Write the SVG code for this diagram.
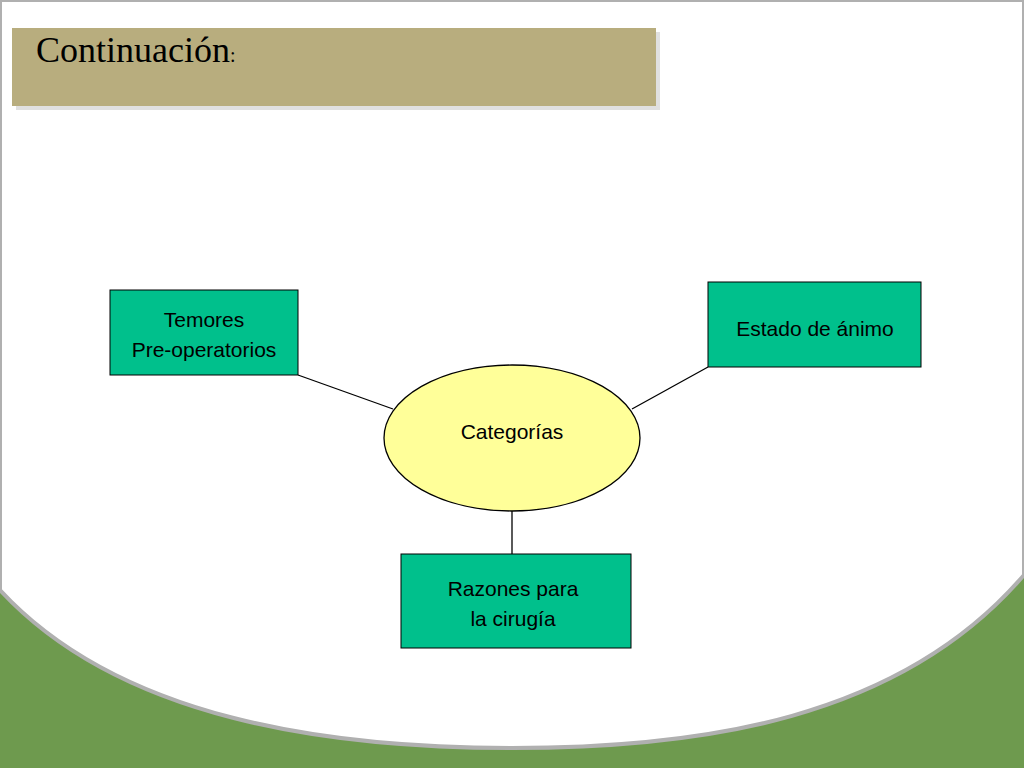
<svg xmlns="http://www.w3.org/2000/svg" width="1024" height="768" viewBox="0 0 1024 768">
<style>
.box{fill:#00c08c;stroke:#000;stroke-width:1}
.t{font-family:"Liberation Sans",Arial,sans-serif;font-size:21px;fill:#000;text-anchor:middle}
.c{stroke:#000;stroke-width:1.3}
</style>
<rect width="1024" height="768" fill="#fff"/>
<path d="M0,590 L1024,570 L1024,768 L0,768 Z" fill="#6e9a4e"/>
<path d="M0,590 C120,720 330,748 512,748 C700,748 900,720 1024,575 L1024,0 L0,0 Z" fill="#fff" stroke="#b0b0b0" stroke-width="4"/>
<rect x="16" y="32" width="644" height="78" fill="#ccc" opacity="0.6"/>
<rect x="12" y="28" width="644" height="78" fill="#b8ad7e"/>
<text x="36" y="62" font-family="Liberation Serif,serif" font-size="36" fill="#000">Continuación<tspan font-size="20">:</tspan></text>
<g id="connectors">
<line class="c" x1="298" y1="375" x2="393" y2="409"/>
<line class="c" x1="632" y1="409" x2="708" y2="367"/>
<line class="c" x1="512" y1="511" x2="512" y2="554"/>
</g>
<g id="temores"><rect class="box" x="110" y="290" width="188" height="85"/>
<text class="t" x="204" y="327">Temores</text><text class="t" x="204" y="357">Pre-operatorios</text></g>
<g id="estado"><rect class="box" x="708" y="282" width="213" height="85"/>
<text class="t" x="815" y="336">Estado de ánimo</text></g>
<g id="razones"><rect class="box" x="401" y="554" width="230" height="94"/>
<text class="t" x="513" y="596">Razones para</text><text class="t" x="513" y="626">la cirugía</text></g>
<g id="categorias"><ellipse cx="512" cy="438" rx="128" ry="73" fill="#ffff99" stroke="#000" stroke-width="1.3"/>
<text class="t" x="512" y="439" font-size="34">Categorías</text></g>
</svg>
